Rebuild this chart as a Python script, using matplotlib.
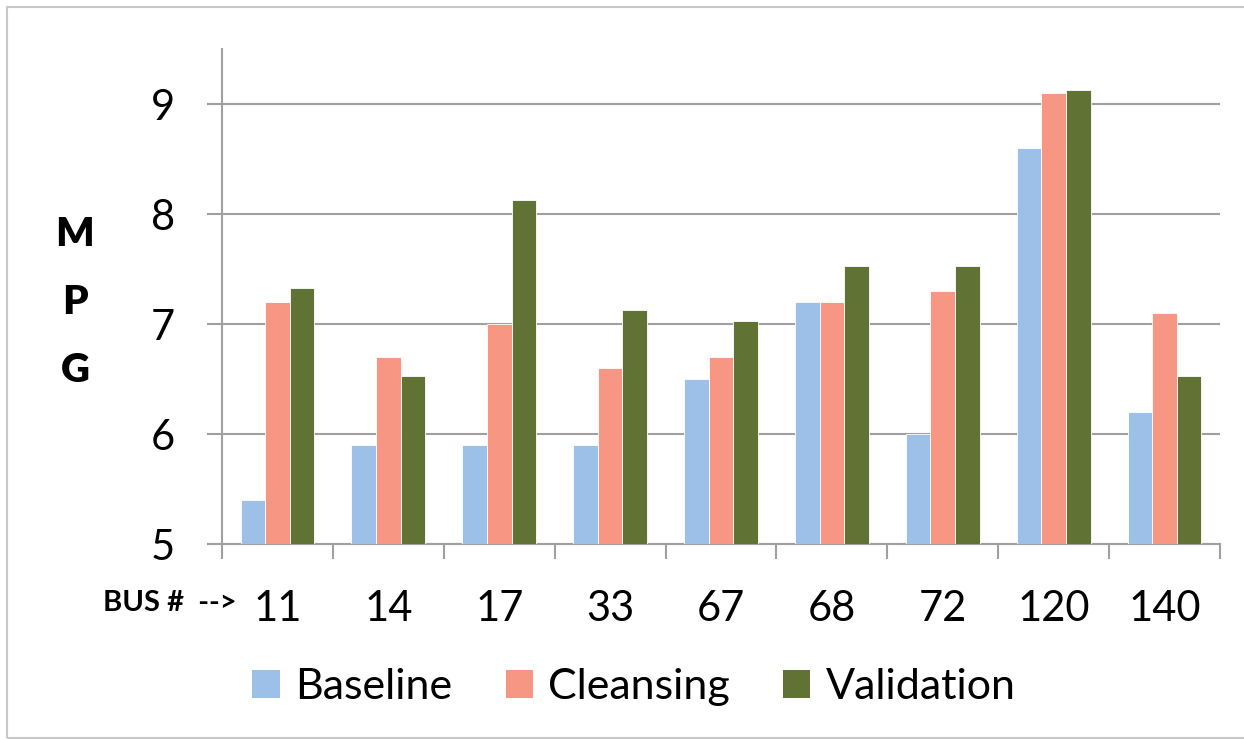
import matplotlib
matplotlib.use("Agg")
import matplotlib.pyplot as plt
import numpy as np
from matplotlib.patches import Rectangle, Patch

# ── Data ──────────────────────────────────────────────────────────────────────
buses = ["11", "14", "17", "33", "67", "68", "72", "120", "140"]
baseline = [5.4, 5.9, 5.9, 5.9, 6.5, 7.2, 6.0, 8.6, 6.2]
cleansing = [7.2, 6.7, 7.0, 6.6, 6.7, 7.2, 7.3, 9.1, 7.1]
validation = [7.33, 6.53, 8.13, 7.13, 7.03, 7.53, 7.53, 9.13, 6.53]

series_names = ["Baseline", "Cleansing", "Validation"]
colors = ["#9DC0E8", "#F79683", "#617235"]
y_ticks = [5, 6, 7, 8, 9]

# ── Figure ────────────────────────────────────────────────────────────────────
plt.rcParams["font.family"] = ["Lato", "DejaVu Sans"]
W, H = 1244, 740
fig = plt.figure(figsize=(W / 100, H / 100), dpi=100)
fig.patches.append(Rectangle((7 / W, 2 / H), 1.0, 1 - 9 / H, transform=fig.transFigure,
                             fill=False, edgecolor="#c8c8c8", linewidth=1.5))

ax = fig.add_axes([222 / W, 196 / H, 998 / W, 495 / H])

x = np.arange(len(buses))
bw = 0.222
for k, (vals, c) in enumerate(zip([baseline, cleansing, validation], colors)):
    ax.bar(x + (k - 1) * bw, vals, width=bw, color=c, edgecolor="white",
           linewidth=0.6, zorder=3)

ax.set_xlim(-0.5, len(buses) - 0.5)
ax.set_ylim(5, 9.5)
ax.set_yticks(y_ticks)
ax.set_yticklabels([str(t) for t in y_ticks])
ax.grid(axis="y", color="#a0a0a0", linewidth=1.5, zorder=0)

for s in ["top", "right"]:
    ax.spines[s].set_visible(False)
for s in ["left", "bottom"]:
    ax.spines[s].set_color("#a0a0a0")
    ax.spines[s].set_linewidth(1.5)

ax.tick_params(axis="y", length=11, width=1.5, color="#a0a0a0", pad=23,
               labelsize=30)
ax.set_xticks(x)
ax.set_xticklabels(buses)
ax.set_xticks(np.arange(len(buses) + 1) - 0.5, minor=True)
ax.tick_params(axis="x", which="major", length=0, pad=33, labelsize=30)
ax.tick_params(axis="x", which="minor", length=11, width=1.5, color="#a0a0a0")

# axis annotations
fig.text(237 / W, 1 - 603 / H, "BUS #  -->", ha="right", va="center",
         fontsize=21, fontweight="bold")
for i, ch in enumerate("MPG"):
    fig.text(75 / W, 1 - (235 + 68 * i) / H, ch, ha="center", va="center",
             fontsize=29, fontweight="heavy")

handles = [Patch(facecolor=c, edgecolor="none") for c in colors]
fig.legend(handles, series_names, loc="center", bbox_to_anchor=(634 / W, 1 - 687 / H),
           ncol=3, frameon=False, fontsize=31, handlelength=0.63, handleheight=0.63,
           handletextpad=0.35, columnspacing=1.25)

fig.savefig("out.png", dpi=100)
